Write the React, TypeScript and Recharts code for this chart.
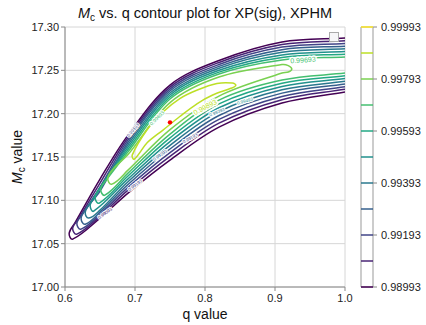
import React from "react";
import {
  CartesianGrid,
  ComposedChart,
  Line,
  ReferenceArea,
  ReferenceDot,
  ReferenceLine,
  Scatter,
  XAxis,
  YAxis,
} from "recharts";

// contour levels and their viridis colours
const LEVELS = [
  0.98993, 0.99093, 0.99193, 0.99293, 0.99393, 0.99493, 0.99593, 0.99693,
  0.99793, 0.99893, 0.99993,
];
const LEVEL_COLORS = [
  "#440154", "#482475", "#414487", "#355f8d", "#2a788e", "#21918c",
  "#22a884", "#44bf70", "#7ad151", "#bddf26", "#fde725",
];
const CBAR_TICKS = [0.98993, 0.99193, 0.99393, 0.99593, 0.99793, 0.99993];
const Q_TICKS = [0.6, 0.7, 0.8, 0.9, 1.0];
const MC_TICKS = [17.0, 17.05, 17.1, 17.15, 17.2, 17.25, 17.3];

// contour paths as [q, Mc]:
// upper branch (right -> left), round the tip, lower branch (left -> right)
const C_98993: [number, number][] = [
  [1.0, 17.2873], [0.91, 17.2827], [0.82, 17.2613], [0.75, 17.233], [0.69, 17.1753],
  [0.65, 17.1245], [0.614, 17.0737], [0.606, 17.0621], [0.611, 17.0552],
  [0.65, 17.0795], [0.69, 17.1083], [0.75, 17.1464], [0.82, 17.1845], [0.91, 17.2122], [1.0, 17.2249],
];
const C_99093: [number, number][] = [
  [1.0, 17.2842], [0.91, 17.2797], [0.82, 17.2591], [0.75, 17.2307], [0.69, 17.1725],
  [0.65, 17.1199], [0.62, 17.0795], [0.611, 17.0679], [0.617, 17.061],
  [0.65, 17.0818], [0.69, 17.1117], [0.75, 17.1507], [0.82, 17.189], [0.91, 17.2161], [1.0, 17.2281],
];
const C_99193: [number, number][] = [
  [1.0, 17.2811], [0.91, 17.2768], [0.82, 17.2568], [0.75, 17.2284], [0.69, 17.1697],
  [0.65, 17.1152], [0.626, 17.0852], [0.617, 17.0737], [0.623, 17.0668],
  [0.65, 17.0841], [0.69, 17.1149], [0.75, 17.155], [0.82, 17.1934], [0.91, 17.2199], [1.0, 17.2312],
];
const C_99293: [number, number][] = [
  [1.0, 17.2779], [0.91, 17.2738], [0.82, 17.2546], [0.75, 17.2261], [0.69, 17.167],
  [0.65, 17.1106], [0.631, 17.091], [0.623, 17.0795], [0.629, 17.0725],
  [0.65, 17.0864], [0.69, 17.1182], [0.75, 17.1592], [0.82, 17.1979], [0.91, 17.2237], [1.0, 17.2343],
];
const C_99393: [number, number][] = [
  [1.0, 17.2748], [0.91, 17.2708], [0.82, 17.2524], [0.75, 17.2238], [0.69, 17.1642],
  [0.637, 17.0979], [0.629, 17.0864], [0.634, 17.0795],
  [0.65, 17.0887], [0.69, 17.1215], [0.75, 17.1635], [0.82, 17.2023], [0.91, 17.2275], [1.0, 17.2374],
];
const C_99493: [number, number][] = [
  [1.0, 17.2717], [0.91, 17.2678], [0.82, 17.2501], [0.75, 17.2215], [0.69, 17.1614],
  [0.644, 17.106], [0.636, 17.0945], [0.641, 17.0875],
  [0.69, 17.1248], [0.75, 17.1678], [0.82, 17.2068], [0.91, 17.2313], [1.0, 17.2405],
];
const C_99593: [number, number][] = [
  [1.0, 17.2686], [0.91, 17.2649], [0.82, 17.2479], [0.75, 17.2192], [0.69, 17.1587],
  [0.651, 17.1152], [0.643, 17.1037], [0.649, 17.0968],
  [0.69, 17.1281], [0.75, 17.1721], [0.82, 17.2113], [0.91, 17.2351], [1.0, 17.2437],
];
const C_99693: [number, number][] = [
  [1.0, 17.2655], [0.91, 17.2619], [0.82, 17.2457], [0.75, 17.2169], [0.69, 17.1559],
  [0.66, 17.1245], [0.651, 17.1129], [0.657, 17.106],
  [0.69, 17.1314], [0.75, 17.1764], [0.82, 17.2157], [0.91, 17.2388], [1.0, 17.2468],
];
// closed loops
const C_99793: [number, number][] = [
  [0.924, 17.2515], [0.919, 17.2555], [0.91, 17.2567], [0.82, 17.2423], [0.75, 17.2128],
  [0.69, 17.1528], [0.67, 17.1372], [0.661, 17.1256], [0.667, 17.1187],
  [0.69, 17.1349], [0.75, 17.1816], [0.82, 17.2203], [0.91, 17.2469], [0.919, 17.248],
];
const C_99893: [number, number][] = [
  [0.844, 17.2324], [0.839, 17.2353], [0.817, 17.2348], [0.789, 17.2273], [0.764, 17.2174],
  [0.74, 17.2019], [0.717, 17.1811], [0.696, 17.1522], [0.699, 17.1476],
  [0.717, 17.1661], [0.74, 17.1811], [0.764, 17.1967], [0.789, 17.2117], [0.811, 17.2215], [0.836, 17.229],
];

const BEST_FIT = [{ q: 0.75, mc: 17.19 }];

// inline contour labels: [q, Mc, level index, rotation, font size]
const INLINE_LABELS: [number, number, number, number, number][] = [
  [0.94, 17.262, 7, -4, 7],
  [0.8, 17.2076, 9, -28, 7],
  [0.7314, 17.1949, 7, -45, 5],
  [0.697, 17.1811, 2, -50, 4.5],
  [0.657, 17.0852, 1, -35, 4.5],
  [0.70, 17.1176, 2, -38, 4.5],
  [0.7357, 17.1522, 3, -35, 4.5],
  [0.7786, 17.1718, 2, -30, 4.5],
  [0.8171, 17.2019, 4, -22, 4.5],
  [0.857, 17.2146, 5, -15, 4.5],
];

const CONTOURS = [
  { level: 0, pts: C_98993, closed: false },
  { level: 1, pts: C_99093, closed: false },
  { level: 2, pts: C_99193, closed: false },
  { level: 3, pts: C_99293, closed: false },
  { level: 4, pts: C_99393, closed: false },
  { level: 5, pts: C_99493, closed: false },
  { level: 6, pts: C_99593, closed: false },
  { level: 7, pts: C_99693, closed: false },
  { level: 8, pts: C_99793, closed: true },
  { level: 9, pts: C_99893, closed: true },
];

const FONT = '"Liberation Sans", Arial, Helvetica, sans-serif';

// smooth curve through the points, tangents scaled by segment length (no overshoot at tips)
function smoothCurve(closed: boolean) {
  return (ctx: any) => {
    let pts: number[][] = [];
    const unit = (dx: number, dy: number) => {
      const l = Math.hypot(dx, dy) || 1;
      return [dx / l, dy / l];
    };
    return {
      areaStart() {},
      areaEnd() {},
      lineStart() {
        pts = [];
      },
      point(x: number, y: number) {
        pts.push([+x, +y]);
      },
      lineEnd() {
        const n = pts.length;
        if (!n) return;
        const get = (i: number) =>
          closed ? pts[(i + n) % n] : pts[Math.max(0, Math.min(n - 1, i))];
        ctx.moveTo(pts[0][0], pts[0][1]);
        const segs = closed ? n : n - 1;
        for (let i = 0; i < segs; i++) {
          const p0 = get(i - 1);
          const p1 = get(i);
          const p2 = get(i + 1);
          const p3 = get(i + 2);
          const len = Math.hypot(p2[0] - p1[0], p2[1] - p1[1]);
          const t1 = unit(p2[0] - p0[0], p2[1] - p0[1]);
          const t2 = unit(p3[0] - p1[0], p3[1] - p1[1]);
          ctx.bezierCurveTo(
            p1[0] + (t1[0] * len) / 3,
            p1[1] + (t1[1] * len) / 3,
            p2[0] - (t2[0] * len) / 3,
            p2[1] - (t2[1] * len) / 3,
            p2[0],
            p2[1],
          );
        }
        if (closed) ctx.closePath();
      },
    };
  };
}

function contourLabel(text: string, color: string, angle: number, size: number) {
  return (p: any) => (
    <text
      x={p.cx}
      y={p.cy}
      dy={size * 0.36}
      textAnchor="middle"
      fontSize={size}
      fontFamily={FONT}
      fill={color}
      stroke="#fff"
      strokeWidth={size * 0.45}
      paintOrder="stroke"
      transform={`rotate(${angle} ${p.cx} ${p.cy})`}
    >
      {text}
    </text>
  );
}

function YLabel() {
  return (
    <text
      x={22}
      y={157}
      transform="rotate(-90 22 157)"
      textAnchor="middle"
      fontSize={14}
      fontFamily={FONT}
      fill="#111"
    >
      <tspan fontStyle="italic">M</tspan>
      <tspan fontSize={10} dy={3}>c</tspan>
      <tspan dy={-3}> value</tspan>
    </text>
  );
}

export default function App() {
  const tick = { fontSize: 11, fill: "#222", fontFamily: FONT };
  return (
    <div
      style={{
        position: "absolute",
        left: 0,
        top: 0,
        width: 426,
        height: 325,
        background: "#fff",
        fontFamily: FONT,
      }}
    >
      <div
        style={{
          position: "absolute",
          left: 65,
          width: 280,
          top: 5,
          textAlign: "center",
          fontSize: 14.5,
          lineHeight: "17px",
          color: "#111",
          whiteSpace: "nowrap",
        }}
      >
        <i>M</i>
        <span style={{ fontSize: 10, position: "relative", top: 3 }}>c</span> vs. q
        contour plot for XP(sig), XPHM
      </div>

      <div style={{ position: "absolute", left: 0, top: 0 }}>
        <ComposedChart
          width={426}
          height={325}
          margin={{ top: 27, right: 81, bottom: 0, left: 0 }}
        >
          <CartesianGrid stroke="#d6d6d6" strokeWidth={1} />
          <XAxis
            type="number"
            dataKey="q"
            domain={[0.6, 1.0]}
            ticks={Q_TICKS}
            allowDataOverflow
            height={38}
            tickFormatter={(v) => Number(v).toFixed(1)}
            tick={tick}
            tickSize={4}
            tickMargin={3}
            tickLine={{ stroke: "#888" }}
            axisLine={{ stroke: "#888" }}
            label={{
              value: "q value",
              position: "insideBottom",
              offset: 6,
              fontSize: 14,
              fill: "#111",
              fontFamily: FONT,
            }}
          />
          <YAxis
            type="number"
            domain={[17.0, 17.3]}
            ticks={MC_TICKS}
            allowDataOverflow
            width={65}
            tickFormatter={(v) => Number(v).toFixed(2)}
            tick={tick}
            tickSize={4}
            tickMargin={2}
            tickLine={{ stroke: "#888" }}
            axisLine={{ stroke: "#888" }}
            label={<YLabel />}
          />
          {CONTOURS.map((c) => (
            <Line
              key={LEVELS[c.level]}
              data={c.pts.map(([q, mc]) => ({ q, mc }))}
              dataKey="mc"
              type={smoothCurve(c.closed) as any}
              stroke={LEVEL_COLORS[c.level]}
              strokeWidth={1.5}
              dot={false}
              activeDot={false}
              isAnimationActive={false}
            />
          ))}
          <Scatter
            data={BEST_FIT}
            dataKey="mc"
            isAnimationActive={false}
            shape={(p: any) => <circle cx={p.cx} cy={p.cy} r={2.2} fill="#ff0000" />}
          />
          {INLINE_LABELS.map(([q, mc, li, angle, size], i) => (
            <ReferenceDot
              key={i}
              x={q}
              y={mc}
              r={0}
              shape={contourLabel(
                LEVELS[li].toFixed(5),
                LEVEL_COLORS[li],
                angle,
                size,
              )}
            />
          ))}
        </ComposedChart>
      </div>

      {/* empty legend frame */}
      <div
        style={{
          position: "absolute",
          left: 329,
          top: 32,
          width: 10,
          height: 10,
          boxSizing: "border-box",
          border: "1px solid #aaa",
          background: "#f6f6f8",
        }}
      />

      {/* colour bar */}
      <div style={{ position: "absolute", left: 340, top: 0 }}>
        <ComposedChart
          width={86}
          height={325}
          margin={{ top: 27, right: 0, bottom: 38, left: 21 }}
        >
          <XAxis type="number" dataKey="x" domain={[0, 1]} hide />
          <YAxis
            type="number"
            dataKey="y"
            orientation="right"
            width={53}
            domain={[LEVELS[0], LEVELS[LEVELS.length - 1]]}
            ticks={CBAR_TICKS}
            allowDataOverflow
            tickFormatter={(v) => Number(v).toFixed(5)}
            tick={tick}
            tickSize={4}
            tickMargin={4}
            tickLine={{ stroke: "#888" }}
            axisLine={false}
          />
          <Scatter
            data={LEVELS.map((y) => ({ x: 0.5, y }))}
            isAnimationActive={false}
            shape={() => <g />}
          />
          {LEVELS.map((lv, i) => (
            <ReferenceLine
              key={lv}
              y={lv}
              stroke={LEVEL_COLORS[i]}
              strokeWidth={1.5}
            />
          ))}
          <ReferenceArea
            x1={0}
            x2={1}
            y1={LEVELS[0]}
            y2={LEVELS[LEVELS.length - 1]}
            fill="none"
            fillOpacity={0}
            stroke="#999"
            strokeWidth={1}
          />
        </ComposedChart>
      </div>
    </div>
  );
}
